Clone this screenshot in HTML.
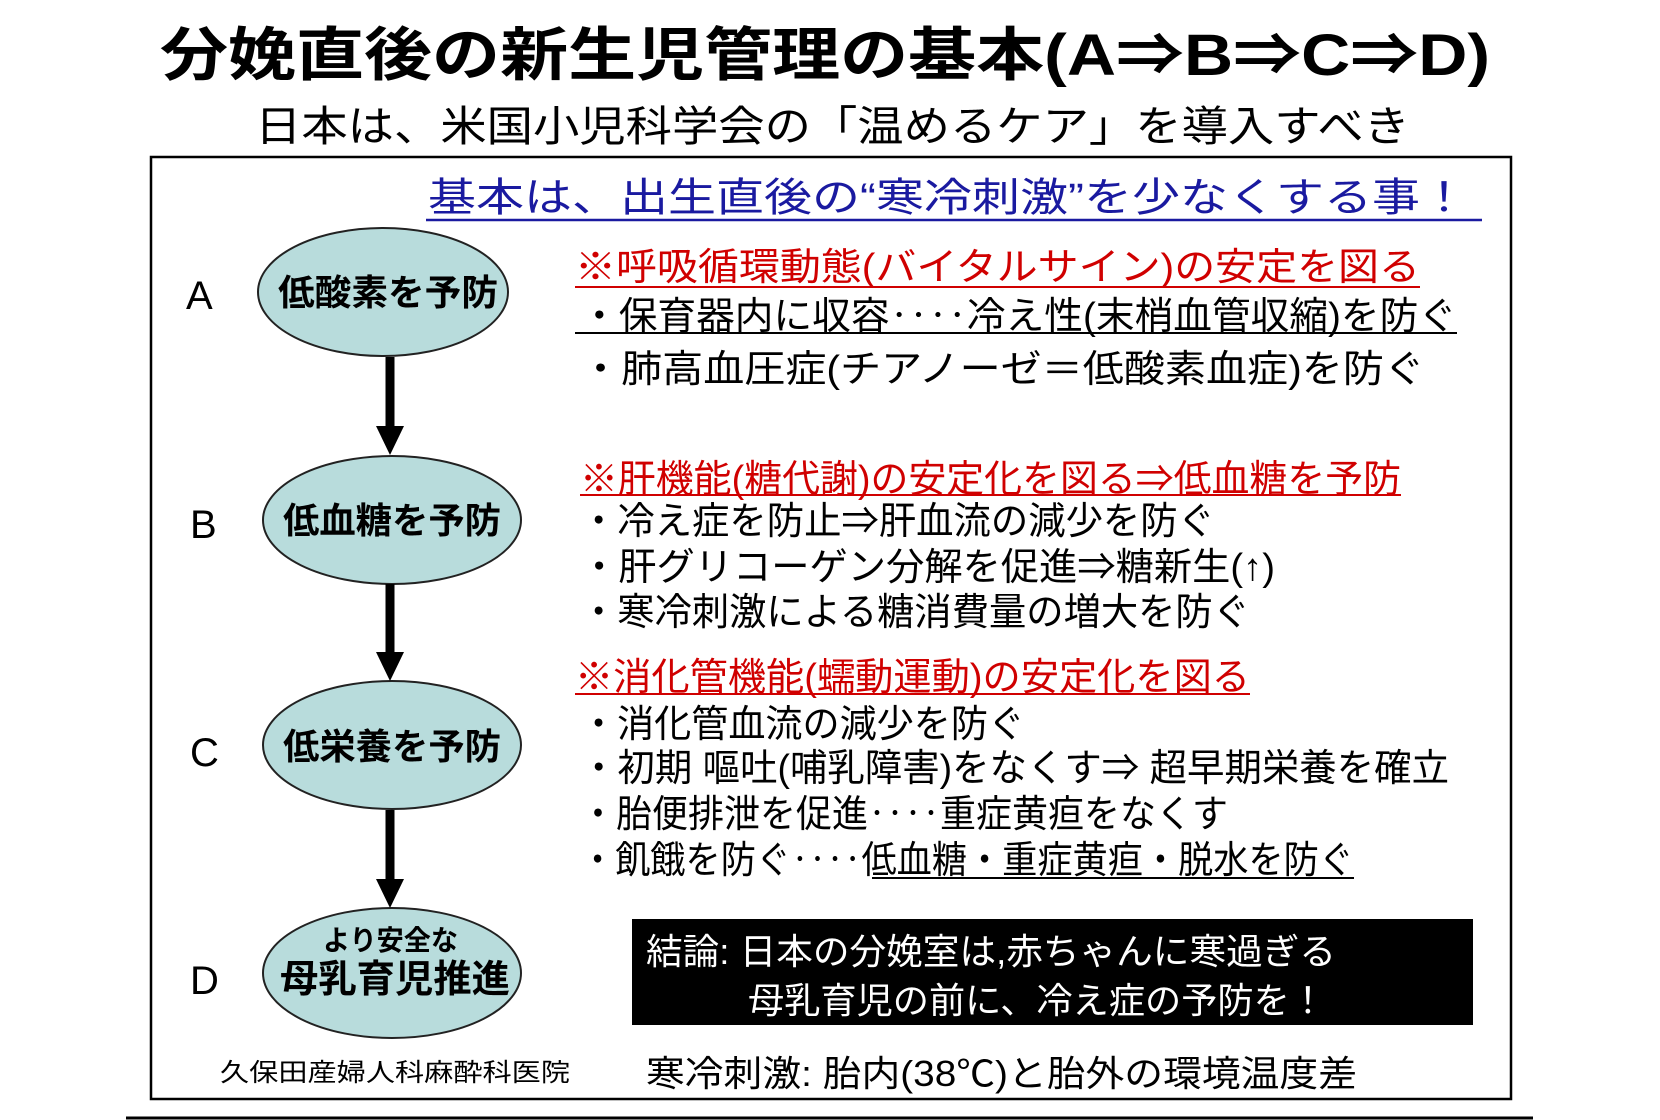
<!DOCTYPE html>
<html><head><meta charset="utf-8"><style>
html,body{margin:0;padding:0;background:#fff;}
svg{display:block;}
text{font-family:"Liberation Sans","Noto Sans CJK JP",sans-serif;}
</style></head><body>
<svg width="1660" height="1120" viewBox="0 0 1660 1120" xmlns="http://www.w3.org/2000/svg">
<rect width="1660" height="1120" fill="#fff"/>
<text x="160" y="75" font-size="58" font-weight="bold" textLength="1330" lengthAdjust="spacingAndGlyphs">分娩直後の新生児管理の基本(A⇒B⇒C⇒D)</text>
<text x="255" y="141" font-size="42" textLength="1155" lengthAdjust="spacingAndGlyphs">日本は、米国小児科学会の「温めるケア」を導入すべき</text>
<rect x="151" y="157" width="1360" height="942" fill="none" stroke="#000" stroke-width="2.5"/>
<text x="428" y="211" font-size="40" fill="#1a1aa0" textLength="1040" lengthAdjust="spacingAndGlyphs">基本は、出生直後の“寒冷刺激”を少なくする事！</text>
<line x1="426" y1="220" x2="1482" y2="220" stroke="#1a1aa0" stroke-width="2.5"/>

<g font-size="40" fill="#000">
<text x="186" y="309">A</text><text x="190" y="538">B</text><text x="190" y="766">C</text><text x="190" y="994">D</text>
</g>

<g fill="#b8dcdc" stroke="#222" stroke-width="2">
<ellipse cx="383" cy="292" rx="125" ry="64"/>
<ellipse cx="392" cy="520" rx="129" ry="64"/>
<ellipse cx="392" cy="745" rx="129" ry="64"/>
<ellipse cx="392" cy="973" rx="129" ry="65"/>
</g>
<g stroke="#000" stroke-width="9">
<line x1="390" y1="357" x2="390" y2="430"/>
<line x1="390" y1="584" x2="390" y2="656"/>
<line x1="390" y1="810" x2="390" y2="882"/>
</g>
<g fill="#000">
<polygon points="376,426 404,426 390,455"/>
<polygon points="376,652 404,652 390,681"/>
<polygon points="376,879 404,879 390,908"/>
</g>
<g font-size="36" font-weight="bold" fill="#000">
<text x="278" y="305" textLength="220" lengthAdjust="spacingAndGlyphs">低酸素を予防</text>
<text x="283" y="533" textLength="218" lengthAdjust="spacingAndGlyphs">低血糖を予防</text>
<text x="283" y="759" textLength="218" lengthAdjust="spacingAndGlyphs">低栄養を予防</text>
<text x="323" y="950" font-size="28" textLength="135" lengthAdjust="spacingAndGlyphs">より安全な</text>
<text x="280" y="992" font-size="38" textLength="230" lengthAdjust="spacingAndGlyphs">母乳育児推進</text>
</g>
<text x="220" y="1081" font-size="25" textLength="350" lengthAdjust="spacingAndGlyphs">久保田産婦人科麻酔科医院</text>

<g font-size="38" fill="#d00000">
<text x="575" y="280" textLength="845" lengthAdjust="spacingAndGlyphs">※呼吸循環動態(バイタルサイン)の安定を図る</text>
<text x="580" y="492" textLength="821" lengthAdjust="spacingAndGlyphs">※肝機能(糖代謝)の安定化を図る⇒低血糖を予防</text>
<text x="575" y="690" textLength="675" lengthAdjust="spacingAndGlyphs">※消化管機能(蠕動運動)の安定化を図る</text>
</g>
<g stroke-width="2">
<line x1="575" y1="287" x2="1420" y2="287" stroke="#d00000"/>
<line x1="580" y1="495" x2="1401" y2="495" stroke="#d00000"/>
<line x1="575" y1="694" x2="1250" y2="694" stroke="#d00000"/>
<line x1="575" y1="333" x2="1457" y2="333" stroke="#000"/>
<line x1="872" y1="878" x2="1354" y2="878" stroke="#000"/>
</g>
<g font-size="38" fill="#000">
<text x="580" y="329" textLength="877" lengthAdjust="spacingAndGlyphs">・保育器内に収容‥‥冷え性(末梢血管収縮)を防ぐ</text>
<text x="580" y="382" textLength="845" lengthAdjust="spacingAndGlyphs">・肺高血圧症(チアノーゼ＝低酸素血症)を防ぐ</text>
<text x="580" y="534" textLength="635" lengthAdjust="spacingAndGlyphs">・冷え症を防止⇒肝血流の減少を防ぐ</text>
<text x="580" y="580" textLength="695" lengthAdjust="spacingAndGlyphs">・肝グリコーゲン分解を促進⇒糖新生(↑)</text>
<text x="580" y="625" textLength="670" lengthAdjust="spacingAndGlyphs">・寒冷刺激による糖消費量の増大を防ぐ</text>
<text x="580" y="737" textLength="445" lengthAdjust="spacingAndGlyphs">・消化管血流の減少を防ぐ</text>
<text x="580" y="781" textLength="869" lengthAdjust="spacingAndGlyphs">・初期 嘔吐(哺乳障害)をなくす⇒ 超早期栄養を確立</text>
<text x="580" y="827" textLength="648" lengthAdjust="spacingAndGlyphs">・胎便排泄を促進‥‥重症黄疸をなくす</text>
<text x="580" y="873" textLength="774" lengthAdjust="spacingAndGlyphs">・飢餓を防ぐ‥‥低血糖・重症黄疸・脱水を防ぐ</text>
</g>
<rect x="632" y="919" width="841" height="106" fill="#000"/>
<g font-size="36" fill="#fff">
<text x="646" y="964" textLength="690" lengthAdjust="spacingAndGlyphs">結論: 日本の分娩室は,赤ちゃんに寒過ぎる</text>
<text x="748" y="1013" textLength="578" lengthAdjust="spacingAndGlyphs">母乳育児の前に、冷え症の予防を！</text>
</g>
<text x="646" y="1086" font-size="36" fill="#000" textLength="711" lengthAdjust="spacingAndGlyphs">寒冷刺激: 胎内(38℃)と胎外の環境温度差</text>
<line x1="126" y1="1118" x2="1533" y2="1118" stroke="#000" stroke-width="3"/>
</svg>
</body></html>
